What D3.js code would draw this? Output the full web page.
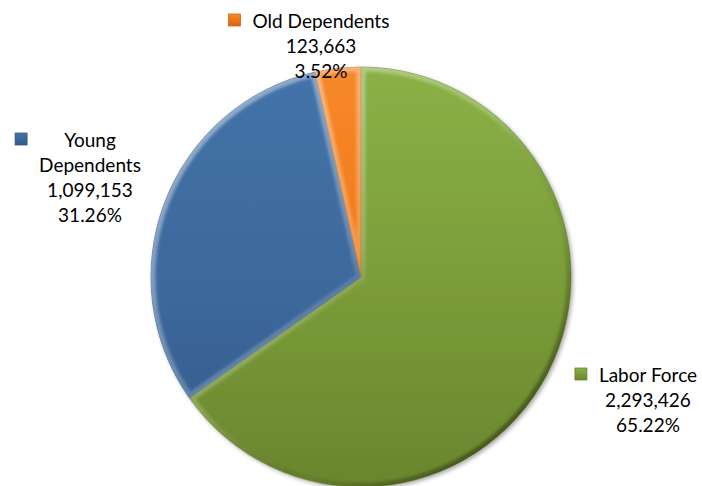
<!DOCTYPE html>
<meta charset="utf-8">
<script src="https://d3js.org/d3.v7.min.js"></script>
<style>
  body { margin: 0; background: #fff; }
  text { font-family: Lato, "Noto Sans", sans-serif; font-size: 19px; fill: #000; }
</style>
<div id="my_dataviz"></div>
<script>

// data
var categories = ["Labor Force", "Young Dependents", "Old Dependents"];
var values = [2293426, 1099153, 123663];
var percents = ["65.22%", "31.26%", "3.52%"];
var labelLines = [["Labor Force"], ["Young", "Dependents"], ["Old Dependents"]];

// colours: light (top), mid, dark (bottom)
var lightColors = ["#8ab146", "#4473a9", "#f7892a"];
var colors = ["#7c9d3a", "#3d699d", "#f07818"];
var darkColors = ["#6a852d", "#335a88", "#d8640e"];

var width = 702, height = 486;
var cx = 361, cy = 277, radius = 210;

// label block layout: centre x, first baseline
var labelLayout = [
  {x: 648, y: 382},
  {x: 90, y: 147},
  {x: 321, y: 28}
];
var lineStep = 25;

var svg = d3.select("#my_dataviz")
  .append("svg")
    .attr("width", width)
    .attr("height", height);

var defs = svg.append("defs");

// vertical fill gradient for each slice (group coordinates)
colors.forEach(function(c, i) {
  var lg = defs.append("linearGradient")
    .attr("id", "grad" + i)
    .attr("gradientUnits", "userSpaceOnUse")
    .attr("x1", 0).attr("y1", -radius)
    .attr("x2", 0).attr("y2", radius);
  lg.append("stop").attr("offset", "0%").attr("stop-color", lightColors[i]);
  lg.append("stop").attr("offset", "50%").attr("stop-color", colors[i]);
  lg.append("stop").attr("offset", "100%").attr("stop-color", darkColors[i]);
});

// key gradients (small boxes)
colors.forEach(function(c, i) {
  var lg = defs.append("linearGradient")
    .attr("id", "key" + i)
    .attr("x1", 0).attr("y1", 0).attr("x2", 0).attr("y2", 1);
  lg.append("stop").attr("offset", "0%").attr("stop-color", lightColors[i]);
  lg.append("stop").attr("offset", "100%").attr("stop-color", darkColors[i]);
});

// rim: light from upper left, dark towards lower right
var rim = defs.append("linearGradient")
  .attr("id", "rim")
  .attr("gradientUnits", "userSpaceOnUse")
  .attr("x1", -radius * 0.7).attr("y1", -radius * 0.7)
  .attr("x2", radius * 0.7).attr("y2", radius * 0.7);
rim.append("stop").attr("offset", "0%").attr("stop-color", "#fff").attr("stop-opacity", 0.42);
rim.append("stop").attr("offset", "45%").attr("stop-color", "#fff").attr("stop-opacity", 0.2);
rim.append("stop").attr("offset", "75%").attr("stop-color", "#000").attr("stop-opacity", 0.05);
rim.append("stop").attr("offset", "100%").attr("stop-color", "#000").attr("stop-opacity", 0.35);

var blur = defs.append("filter").attr("id", "soft")
  .attr("x", "-10%").attr("y", "-10%").attr("width", "120%").attr("height", "120%");
blur.append("feGaussianBlur").attr("stdDeviation", 1.5);

var sh = defs.append("filter").attr("id", "shadow")
  .attr("x", "-10%").attr("y", "-10%").attr("width", "120%").attr("height", "120%");
sh.append("feDropShadow").attr("dx", 2).attr("dy", 2).attr("stdDeviation", 2)
  .attr("flood-color", "#000").attr("flood-opacity", 0.35);

var pie = d3.pie().sort(null).value(function(d) { return d; });
var arcs = pie(values);

var arc = d3.arc().innerRadius(0).outerRadius(radius);

var g = svg.append("g")
  .attr("transform", "translate(" + cx + "," + cy + ")");

// clip paths for the bevel rims
arcs.forEach(function(d, i) {
  defs.append("clipPath").attr("id", "clip" + i)
    .append("path")
      .attr("d", arc(d))
      .attr("transform", "translate(" + cx + "," + cy + ")");
});

var slices = g.append("g").attr("filter", "url(#shadow)");

slices.selectAll("path.slice")
  .data(arcs)
  .enter()
  .append("path")
    .attr("class", "slice")
    .attr("d", arc)
    .attr("fill", function(d, i) { return "url(#grad" + i + ")"; });

// bevel rims, clipped inside each slice
arcs.forEach(function(d, i) {
  svg.append("g")
    .attr("clip-path", "url(#clip" + i + ")")
    .append("path")
      .attr("transform", "translate(" + cx + "," + cy + ")")
      .attr("d", arc(d))
      .attr("fill", "none")
      .attr("stroke", "url(#rim)")
      .attr("stroke-width", 9)
      .attr("stroke-linejoin", "round")
      .attr("filter", "url(#soft)");
});

// thin dark outlines
g.selectAll("path.outline")
  .data(arcs)
  .enter()
  .append("path")
    .attr("class", "outline")
    .attr("d", arc)
    .attr("fill", "none")
    .attr("stroke", function(d, i) { return darkColors[i]; })
    .attr("stroke-opacity", 0.8)
    .attr("stroke-width", 0.8);

// labels
var fmt = d3.format(",");
labelLayout.forEach(function(p, i) {
  var lines = labelLines[i].concat([fmt(values[i]), percents[i]]);
  var t = svg.append("text")
    .attr("text-anchor", "middle");
  lines.forEach(function(l, k) {
    t.append("tspan")
      .attr("x", p.x)
      .attr("y", p.y + k * lineStep)
      .text(l);
  });
  // legend key left of the widest line
  var w = d3.max(t.selectAll("tspan").nodes(), function(n) { return n.getComputedTextLength(); });
  svg.append("rect")
    .attr("x", p.x - w / 2 - 24)
    .attr("y", p.y - 14)
    .attr("width", 12)
    .attr("height", 12)
    .attr("fill", "url(#key" + i + ")")
    .attr("stroke", darkColors[i])
    .attr("stroke-width", 0.8);
});

</script>
